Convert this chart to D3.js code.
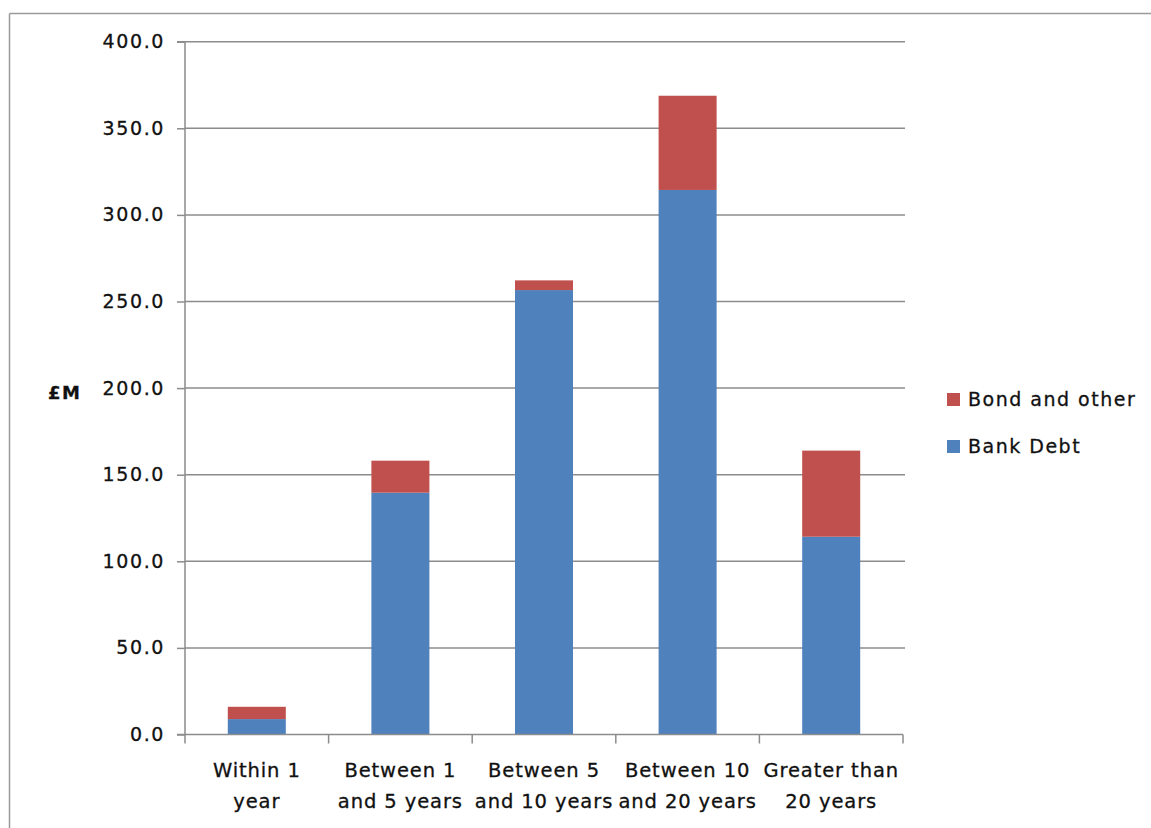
<!DOCTYPE html>
<html>
<head>
<meta charset="utf-8">
<script src="https://cdn.jsdelivr.net/npm/d3@7"></script>
<style>
  body { margin: 0; background: #fff; }
  svg text { font-family: "DejaVu Sans", sans-serif; fill: #111; stroke: #111; stroke-width: 0.3px; }
</style>
</head>
<body>
<svg id="chart" width="1151" height="828"></svg>
<script>
// Maturity buckets and outstanding debt (£M)
const categories = [
  ["Within 1", "year"],
  ["Between 1", "and 5 years"],
  ["Between 5", "and 10 years"],
  ["Between 10", "and 20 years"],
  ["Greater than", "20 years"]
];
const bankDebt     = [8.9, 139.6, 256.6, 314.4, 114.2];
const bondAndOther = [7.1, 18.5, 5.6, 54.4, 49.7];
const yTicks = [0, 50, 100, 150, 200, 250, 300, 350, 400];
const seriesNames = ["Bank Debt", "Bond and other"];
const seriesColors = ["#4F81BD", "#C0504D"];

const svg = d3.select("#chart");
const plot = { left: 185, right: 903, top: 41.7, bottom: 734.5 };
const gridColor = "#8c8c8c";

// outer chart frame (top and left edges visible)
svg.append("line").attr("x1", 9.5).attr("x2", 1151).attr("y1", 13.5).attr("y2", 13.5)
  .attr("stroke", "#9a9a9a").attr("stroke-width", 1.5);
svg.append("line").attr("x1", 9.5).attr("x2", 9.5).attr("y1", 13.5).attr("y2", 828)
  .attr("stroke", "#9a9a9a").attr("stroke-width", 1.5);

const keys = categories.map(c => c.join(" "));
const x = d3.scaleBand().domain(keys)
  .range([plot.left, plot.right])
  .paddingInner(0.596).paddingOuter(0.298);
const y = d3.scaleLinear().domain([0, 400]).range([plot.bottom, plot.top]);

// horizontal gridlines
svg.append("g").selectAll("line").data(yTicks.filter(t => t > 0)).join("line")
  .attr("x1", plot.left).attr("x2", plot.right + 2)
  .attr("y1", d => y(d)).attr("y2", d => y(d))
  .attr("stroke", gridColor).attr("stroke-width", 1.5);

// stacked bars
const rows = keys.map((k, i) => ({ key: k, "Bank Debt": bankDebt[i], "Bond and other": bondAndOther[i] }));
const stacked = d3.stack().keys(seriesNames)(rows);
svg.append("g").selectAll("g").data(stacked).join("g")
  .attr("fill", (d, i) => seriesColors[i])
  .selectAll("rect").data(d => d).join("rect")
  .attr("x", d => x(d.data.key))
  .attr("width", x.bandwidth())
  .attr("y", d => y(d[1]))
  .attr("height", d => y(d[0]) - y(d[1]));

// y axis
const yAxis = d3.axisLeft(y).tickValues(yTicks).tickFormat(d3.format(".1f"))
  .tickSize(8).tickPadding(12);
const gy = svg.append("g").attr("transform", `translate(${plot.left},0)`).call(yAxis);
gy.select(".domain").attr("stroke", gridColor).attr("stroke-width", 1.5)
  .attr("d", `M-8,${plot.top}H0V${plot.bottom}H-8`);
gy.selectAll(".tick line").attr("stroke", gridColor).attr("stroke-width", 1.5);
gy.selectAll(".tick text").attr("font-size", 19).attr("letter-spacing", 1.6)
  .attr("font-family", "DejaVu Sans").attr("fill", "#111");

// x axis: ticks at category boundaries
const edges = keys.map((k, i) => plot.left + i * x.step()).concat([plot.right]);
const gx = svg.append("g");
gx.append("line").attr("x1", plot.left).attr("x2", plot.right)
  .attr("y1", plot.bottom).attr("y2", plot.bottom)
  .attr("stroke", gridColor).attr("stroke-width", 1.5);
gx.selectAll("line.tk").data(edges).join("line").attr("class", "tk")
  .attr("x1", d => d).attr("x2", d => d)
  .attr("y1", plot.bottom).attr("y2", plot.bottom + 9)
  .attr("stroke", gridColor).attr("stroke-width", 1.5);
const labels = gx.selectAll("text").data(categories).join("text")
  .attr("text-anchor", "middle")
  .attr("font-size", 19.5).attr("letter-spacing", 0.9)
  .attr("transform", (d, i) => `translate(${x(keys[i]) + x.bandwidth() / 2},0)`);
labels.each(function(d) {
  d3.select(this).selectAll("tspan").data(d).join("tspan")
    .attr("x", 0).attr("y", (t, j) => 777 + j * 31).text(t => t);
});

// axis title
svg.append("text").attr("x", 48).attr("y", 399)
  .attr("font-size", 18).attr("font-weight", "bold").attr("letter-spacing", 1.5).text("£M");

// legend (Bond and other listed first)
const legendItems = [1, 0];
const lg = svg.append("g").selectAll("g").data(legendItems).join("g")
  .attr("transform", (d, i) => `translate(947,${393 + i * 47})`);
lg.append("rect").attr("width", 13).attr("height", 13).attr("fill", d => seriesColors[d]);
lg.append("text").attr("x", 21).attr("y", 13)
  .attr("font-size", 19).attr("letter-spacing", 1.5)
  .text(d => seriesNames[d]);
</script>
</body>
</html>
